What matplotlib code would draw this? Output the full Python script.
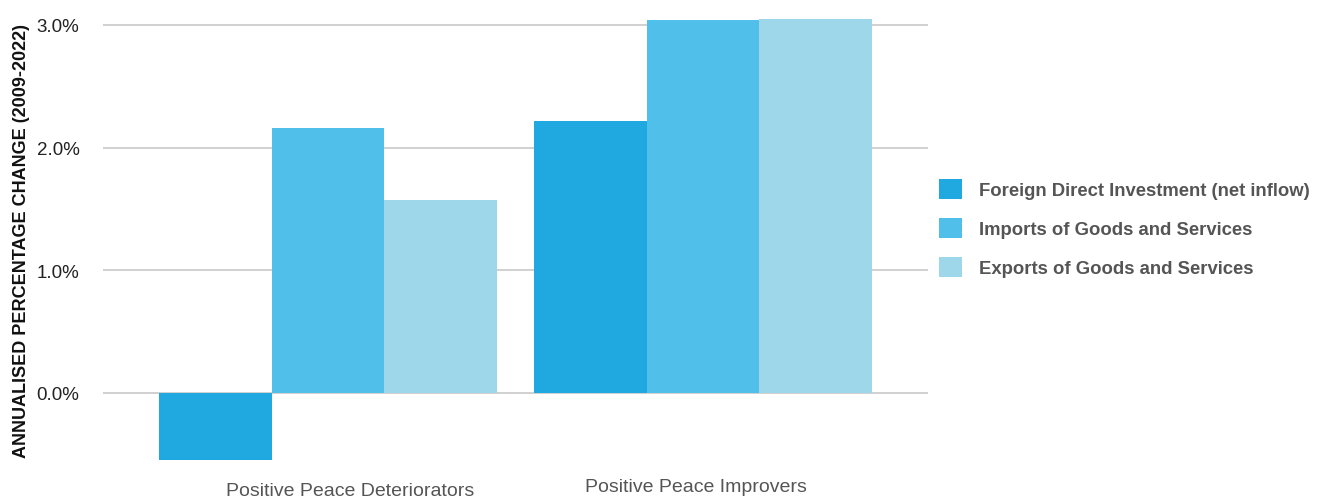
import matplotlib
matplotlib.use("Agg")
import matplotlib.pyplot as plt
import numpy as np

categories = ["Positive Peace Deteriorators", "Positive Peace Improvers"]
series_names = ["Foreign Direct Investment (net inflow)",
                "Imports of Goods and Services",
                "Exports of Goods and Services"]
fdi = [-0.55, 2.22]
imports = [2.16, 3.04]
exports = [1.57, 3.05]
yticks = [0.0, 1.0, 2.0, 3.0]
ytick_labels = ["0.0%", "1.0%", "2.0%", "3.0%"]
colors = ["#1FA9E0", "#50C0EA", "#9ED6EA"]

plt.rcParams['font.family'] = ['Liberation Sans', 'DejaVu Sans']

fig = plt.figure(figsize=(13.28, 5.02), dpi=100)
ax = fig.add_axes([103/1328, 1-467.6/502, 825/1328, 466.2/502])

x = np.arange(len(categories))
w = 0.3
for i, (vals, name) in enumerate(zip([fdi, imports, exports], series_names)):
    ax.bar(x + (i-1)*w, vals, width=w, color=colors[i], label=name, zorder=3)

ax.set_xlim(-0.6, 1.6)
ax.set_ylim(-0.6, 3.2)
ax.set_yticks(yticks)
ax.set_yticklabels(ytick_labels, fontsize=13.5, color="#222222")
ax.tick_params(axis='y', length=0, pad=17)
ax.grid(axis='y', color="#C8C8C8", linewidth=1.2, zorder=0)
ax.set_xticks([])
for s in ax.spines.values():
    s.set_visible(False)

# category labels
label_pos = [(350, 492), (696, 488)]
for cat, (px, py) in zip(categories, label_pos):
    fig.text(px/1328, 1-py/502, cat, ha='center', va='center', fontsize=14, color="#555555")

fig.text(22/1328, 1-241/502, "ANNUALISED PERCENTAGE CHANGE (2009-2022)", rotation=90,
         ha='center', va='center', fontsize=13, fontweight='bold', color="#111111")

leg = fig.legend(loc='center left', bbox_to_anchor=(922/1328, 1-229/502), frameon=False,
                 prop={'size': 13.3, 'weight': 'bold'}, handlelength=1.27, handleheight=1.27,
                 handletextpad=0.92, labelspacing=1.02)
for t in leg.get_texts():
    t.set_color("#555555")

fig.savefig("out.png", dpi=100)
